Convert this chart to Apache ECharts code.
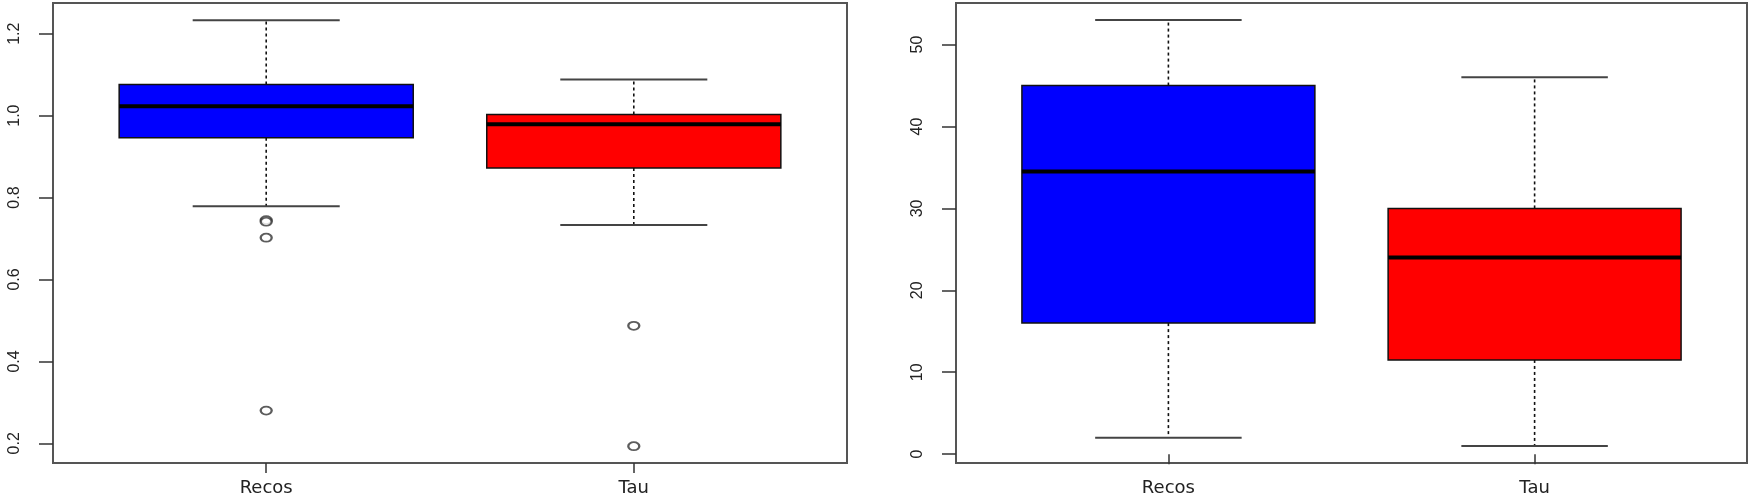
<!DOCTYPE html>
<html>
<head>
<meta charset="utf-8">
<title>Recos vs Tau boxplots</title>
<script src="https://cdn.jsdelivr.net/npm/echarts@6/dist/echarts.min.js"></script>
<style>
  html, body { margin: 0; padding: 0; background: #fff; }
  #chart { width: 1751px; height: 500px; }
</style>
</head>
<body>
<div id="chart"></div>
<script>
const categories = ['Recos', 'Tau'];
const boxColors = ['#0000ff', '#ff0000'];

// min, q1, median, q3, max (whisker ends)
const ratioStats = [
  [0.779, 0.946, 1.023, 1.076, 1.233],
  [0.733, 0.872, 0.979, 1.003, 1.088]
];
const recosRatioOutliers = [0.745, 0.741, 0.702, 0.280];
const tauRatioOutliers = [0.487, 0.193];

const countStats = [
  [2, 16, 34.5, 45, 53],
  [1, 11.5, 24, 30, 46]
];

const ratioTicks = [0.2, 0.4, 0.6, 0.8, 1.0, 1.2];
const countTicks = [0, 10, 20, 30, 40, 50];
const categoryTicks = [1, 2];

const chart = echarts.init(document.getElementById('chart'));

function renderBox(params, api) {
  const x = api.value(0);
  const lo = api.value(1), q1 = api.value(2), med = api.value(3), q3 = api.value(4), hi = api.value(5);
  const p = (xv, yv) => api.coord([xv, yv]);
  const boxTL = p(x - 0.4, q3);
  const boxBR = p(x + 0.4, q1);
  const dashed = { stroke: '#111', lineWidth: 1.6, lineDash: [3, 3] };
  const cap = { stroke: '#444', lineWidth: 2 };
  const seg = (a, b, style) => ({
    type: 'line',
    shape: { x1: a[0], y1: a[1], x2: b[0], y2: b[1] },
    style: style
  });
  return {
    type: 'group',
    children: [
      seg(p(x, q3), p(x, hi), dashed),
      seg(p(x, q1), p(x, lo), dashed),
      seg(p(x - 0.2, hi), p(x + 0.2, hi), cap),
      seg(p(x - 0.2, lo), p(x + 0.2, lo), cap),
      {
        type: 'rect',
        shape: { x: boxTL[0], y: boxTL[1], width: boxBR[0] - boxTL[0], height: boxBR[1] - boxTL[1] },
        style: { fill: boxColors[params.dataIndex], stroke: '#111', lineWidth: 1.5 }
      },
      seg(p(x - 0.4, med), p(x + 0.4, med), { stroke: '#000', lineWidth: 4 })
    ]
  };
}

function xAxisFor(gridIndex) {
  return {
    type: 'value',
    gridIndex: gridIndex,
    min: 0.42,
    max: 2.58,
    axisLine: { show: false },
    splitLine: { show: false },
    axisTick: { show: true, customValues: categoryTicks, length: 10, lineStyle: { color: '#333', width: 1.5 } },
    axisLabel: {
      customValues: categoryTicks,
      margin: 16,
      fontSize: 18,
      fontFamily: 'DejaVu Sans',
      color: '#222',
      formatter: v => categories[Math.round(v) - 1]
    }
  };
}

function yAxisFor(gridIndex, min, max, ticks, digits) {
  return {
    type: 'value',
    gridIndex: gridIndex,
    min: min,
    max: max,
    axisLine: { show: false },
    splitLine: { show: false },
    axisTick: { show: true, customValues: ticks, length: 14, lineStyle: { color: '#333', width: 1.5 } },
    axisLabel: {
      customValues: ticks,
      rotate: 90,
      margin: 30,
      fontSize: 16,
      fontFamily: 'Liberation Sans',
      color: '#222',
      formatter: v => v.toFixed(digits)
    }
  };
}

function outlierPoints(values, x) {
  return values.map(v => [x, v]);
}

chart.setOption({
  animation: false,
  backgroundColor: '#fff',
  grid: [
    { left: 53, top: 3, width: 794, height: 460, show: true, borderColor: '#555', borderWidth: 2, backgroundColor: 'transparent' },
    { left: 956, top: 3, width: 791, height: 460, show: true, borderColor: '#555', borderWidth: 2, backgroundColor: 'transparent' }
  ],
  xAxis: [xAxisFor(0), xAxisFor(1)],
  yAxis: [
    yAxisFor(0, 0.152, 1.275, ratioTicks, 1),
    yAxisFor(1, -1.08, 55.08, countTicks, 0)
  ],
  series: [
    {
      type: 'custom',
      xAxisIndex: 0,
      yAxisIndex: 0,
      renderItem: renderBox,
      encode: { x: 0, y: [1, 2, 3, 4, 5] },
      data: ratioStats.map((s, i) => [i + 1].concat(s))
    },
    {
      type: 'scatter',
      xAxisIndex: 0,
      yAxisIndex: 0,
      symbol: 'emptyCircle',
      symbolSize: [11, 8],
      itemStyle: { color: '#333', borderColor: '#333', borderWidth: 1.5 },
      data: outlierPoints(recosRatioOutliers, 1).concat(outlierPoints(tauRatioOutliers, 2))
    },
    {
      type: 'custom',
      xAxisIndex: 1,
      yAxisIndex: 1,
      renderItem: renderBox,
      encode: { x: 0, y: [1, 2, 3, 4, 5] },
      data: countStats.map((s, i) => [i + 1].concat(s))
    }
  ]
});
</script>
</body>
</html>
